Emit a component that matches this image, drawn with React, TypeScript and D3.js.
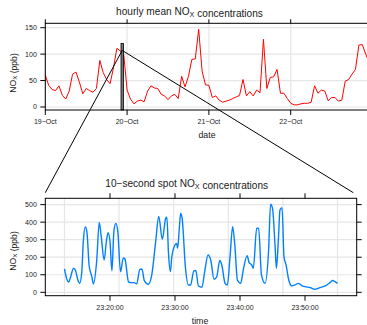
import * as d3 from 'd3';

// hourly mean NOx (ppb), 19-Oct 00:00 .. 22-Oct 23:00
const hourlyStart = new Date(2003, 9, 19, 0, 0);
const hourlyNox = [
  60, 41, 33, 31, 40, 22, 15, 30, 62, 66, 47, 25, 35, 31, 28, 35, 88, 65, 52, 44, 74, 111, 106, 100,
  32, 15, 6, 11, 13, 10, 30, 40, 36, 35, 24, 21, 14, 21, 24, 16, 58, 38, 58, 90, 91, 147, 68, 42,
  41, 18, 21, 13, 9, 11, 13, 16, 19, 22, 52, 21, 29, 21, 32, 27, 128, 35, 56, 57, 71, 26, 26, 16,
  7, 4, 4, 6, 7, 7, 9, 40, 26, 32, 30, 12, 18, 18, 11, 13, 49, 52, 62, 71, 117, 118, 100, 85
];
const dayTicks = ['19−Oct', '20−Oct', '21−Oct', '22−Oct'];
const hourlyYTicks = [0, 50, 100, 150];

// window of the spot series on the hourly axis (GMT)
const windowStart = new Date(2003, 9, 19, 22, 13);
const windowEnd = new Date(2003, 9, 19, 22, 55);
const windowTop = 120;
const windowAnchor = 107;

// 10-second spot NOx, minutes after 23:00
const spotMinutes = [
  13.0, 13.3, 13.65, 13.9, 14.4, 14.7, 15.05, 15.35, 15.65, 15.9, 16.2, 16.45, 16.8, 17.2, 17.45, 17.95,
  18.35, 18.65, 19.1, 19.45, 19.7, 20.0, 20.3, 20.6, 20.9, 21.2, 21.62, 22.05, 22.3, 22.85, 23.3, 23.7,
  24.1, 24.6, 24.9, 25.3, 25.9, 26.4, 27.0, 27.5, 28.05, 28.56, 28.75, 29.0, 29.3, 29.5, 30.0, 30.25,
  30.4, 30.67, 30.87, 31.1, 31.6, 32.05, 32.4, 32.9, 33.2, 33.6, 34.15, 34.56, 35.08, 35.5, 36.0, 36.4,
  36.9, 37.2, 37.7, 38.05, 38.46, 38.87, 39.2, 39.6, 40.1, 40.5, 41.1, 41.4, 41.8, 42.05, 42.56, 42.87,
  43.3, 43.85, 44.4, 44.7, 45.0, 45.4, 45.6, 45.9, 46.15, 46.46, 46.77, 47.08, 47.5, 47.95, 48.46, 48.97,
  49.5, 50.0, 50.8, 51.5, 52.3, 53.1, 53.85, 54.26, 54.6, 55.0
];
const spotNox = [
  133, 82, 58, 82, 137, 124, 72, 52, 110, 291, 372, 345, 150, 91, 47, 177,
  398, 319, 184, 291, 340, 291, 122, 348, 393, 348, 117, 196, 190, 60, 55, 55,
  48, 131, 133, 65, 46, 93, 279, 432, 302, 422, 428, 222, 118, 200, 270, 279,
  251, 365, 450, 422, 143, 42, 42, 122, 124, 36, 29, 118, 213, 184, 74, 86,
  181, 156, 51, 42, 203, 374, 270, 70, 51, 127, 209, 169, 156, 137, 365, 365,
  99, 51, 241, 502, 479, 260, 137, 298, 470, 483, 203, 156, 70, 36, 42, 51,
  38, 32, 27, 17, 27, 36, 55, 67, 61, 51
];
const spotYTicks = [0, 100, 200, 300, 400, 500];
const spotXTicks = [20, 30, 40, 50];

const font = '"Liberation Sans", Arial, Helvetica, sans-serif';
const grid = '#e6e6e6';
const ink = '#1a1a1a';

const spotTime = (m: number) => new Date(2003, 9, 19, 23, 0, Math.round(m * 60));

function NOx({ size = 11 }) {
  return (
    <>
      NO<tspan dy={size * 0.22} fontSize={size * 0.72}>X</tspan>
      <tspan dy={-size * 0.22}></tspan>
    </>
  );
}

export default function App() {
  const W = 367;
  const H = 325;

  // top panel
  const top = { l: 45.3, r: 369.1, t: 23.3, b: 110 };
  const xTop = d3
    .scaleTime()
    .domain([hourlyStart, d3.timeHour.offset(hourlyStart, hourlyNox.length - 1)])
    .range([top.l, top.r]);
  const yTop = d3.scaleLinear().domain([-5.7, 158.3]).range([top.b, top.t]);
  const dayDates = dayTicks.map((_, i) => d3.timeDay.offset(hourlyStart, i));
  const hourlyLine = d3
    .line<number>()
    .x((_, i) => xTop(d3.timeHour.offset(hourlyStart, i)))
    .y((v) => yTop(v));

  // bottom panel
  const bot = { l: 45.3, r: 356.7, t: 198.3, b: 295.7 };
  const xBot = d3
    .scaleTime()
    .domain([spotTime(10.05), spotTime(57.95)])
    .range([bot.l, bot.r]);
  const yBot = d3.scaleLinear().domain([-19.4, 536]).range([bot.b, bot.t]);
  const spotLine = d3
    .line<number>()
    .x((_, i) => xBot(spotTime(spotMinutes[i])))
    .y((v) => yBot(v))
    .curve(d3.curveMonotoneX);
  const first = spotMinutes[0];
  const last = spotMinutes[spotMinutes.length - 1];
  const spotGrid = d3.range(6).map((k) => spotTime(first + ((last - first) * k) / 5));
  const fmt = d3.timeFormat('%H:%M:%S');

  const wx0 = xTop(windowStart);
  const wx1 = xTop(windowEnd);
  const ax = (wx0 + wx1) / 2;
  const ay = yTop(windowAnchor);

  return (
    <svg
      width={W}
      height={H}
      style={{ position: 'absolute', left: 0, top: 0, background: '#fff' }}
      fontFamily={font}
      fill={ink}
    >
      {/* ---- hourly panel ---- */}
      <text x={189.5} y={14.5} fontSize={10.1} textAnchor="middle">
        hourly mean <NOx size={10.1} /> concentrations
      </text>
      <g>
        {hourlyYTicks.map((v) => (
          <line key={v} x1={top.l} x2={top.r} y1={yTop(v)} y2={yTop(v)} stroke={grid} strokeWidth={1.2} />
        ))}
        {dayDates.map((d, i) => (
          <line key={i} x1={xTop(d)} x2={xTop(d)} y1={top.t} y2={top.b} stroke={grid} strokeWidth={1.2} />
        ))}
      </g>
      <path d={hourlyLine(hourlyNox) || ''} fill="none" stroke="#ff0000" strokeWidth={1} />
      <rect
        x={wx0}
        y={yTop(windowTop)}
        width={wx1 - wx0}
        height={top.b - yTop(windowTop)}
        fill="#777"
        stroke="#000"
        strokeWidth={0.8}
      />
      <rect x={top.l} y={top.t} width={top.r - top.l} height={top.b - top.t} fill="none" stroke="#000" strokeWidth={1} />
      {hourlyYTicks.map((v) => (
        <g key={v}>
          <line x1={top.l - 5} x2={top.l} y1={yTop(v)} y2={yTop(v)} stroke="#000" />
          <text x={top.l - 8.5} y={yTop(v) + 2.5} fontSize={7} textAnchor="end">
            {v}
          </text>
        </g>
      ))}
      {dayDates.map((d, i) => (
        <g key={i}>
          <line x1={xTop(d)} x2={xTop(d)} y1={top.b} y2={top.b + 5} stroke="#000" />
          <line x1={xTop(d)} x2={xTop(d)} y1={top.t} y2={top.t - 4} stroke="#000" />
          <text x={xTop(d)} y={124} fontSize={7} textAnchor="middle">
            {dayTicks[i]}
          </text>
        </g>
      ))}
      <text x={207} y={138} fontSize={8.8} textAnchor="middle">
        date
      </text>
      <text transform="translate(15.5,73) rotate(-90)" fontSize={8.6} textAnchor="middle">
        <NOx size={8.6} /> (ppb)
      </text>

      {/* ---- zoom lines ---- */}
      <line x1={ax} y1={ay} x2={bot.l} y2={bot.t - 5.6} stroke="#000" strokeWidth={1} />
      <line x1={ax} y1={ay} x2={bot.r - 3.4} y2={bot.t - 5.6} stroke="#000" strokeWidth={1} />

      {/* ---- spot panel ---- */}
      <text x={186.7} y={187} fontSize={10.1} textAnchor="middle">
        10−second spot <NOx size={10.1} /> concentrations
      </text>
      <g>
        {spotYTicks.map((v) => (
          <line key={v} x1={bot.l} x2={bot.r} y1={yBot(v)} y2={yBot(v)} stroke={grid} strokeWidth={1.2} />
        ))}
        {spotGrid.map((d, i) => (
          <line key={i} x1={xBot(d)} x2={xBot(d)} y1={bot.t} y2={bot.b} stroke={grid} strokeWidth={1.2} />
        ))}
      </g>
      <path d={spotLine(spotNox) || ''} fill="none" stroke="#0080ff" strokeWidth={1.4} />
      <rect x={bot.l} y={bot.t} width={bot.r - bot.l} height={bot.b - bot.t} fill="none" stroke="#000" strokeWidth={1} />
      {spotYTicks.map((v) => (
        <g key={v}>
          <line x1={bot.l - 5} x2={bot.l} y1={yBot(v)} y2={yBot(v)} stroke="#000" />
          <line x1={bot.r} x2={bot.r + 5} y1={yBot(v)} y2={yBot(v)} stroke="#000" />
          <text x={bot.l - 8.5} y={yBot(v) + 2.5} fontSize={7} textAnchor="end">
            {v}
          </text>
        </g>
      ))}
      {spotXTicks.map((m) => {
        const x = xBot(spotTime(m));
        return (
          <g key={m}>
            <line x1={x} x2={x} y1={bot.b} y2={bot.b + 5} stroke="#000" />
            <line x1={x} x2={x} y1={bot.t} y2={bot.t - 5} stroke="#000" />
            <text x={x} y={309.5} fontSize={7} textAnchor="middle">
              {fmt(spotTime(m))}
            </text>
          </g>
        );
      })}
      <text x={200} y={323.5} fontSize={8.8} textAnchor="middle">
        time
      </text>
      <text transform="translate(15.5,251) rotate(-90)" fontSize={8.6} textAnchor="middle">
        <NOx size={8.6} /> (ppb)
      </text>
    </svg>
  );
}
